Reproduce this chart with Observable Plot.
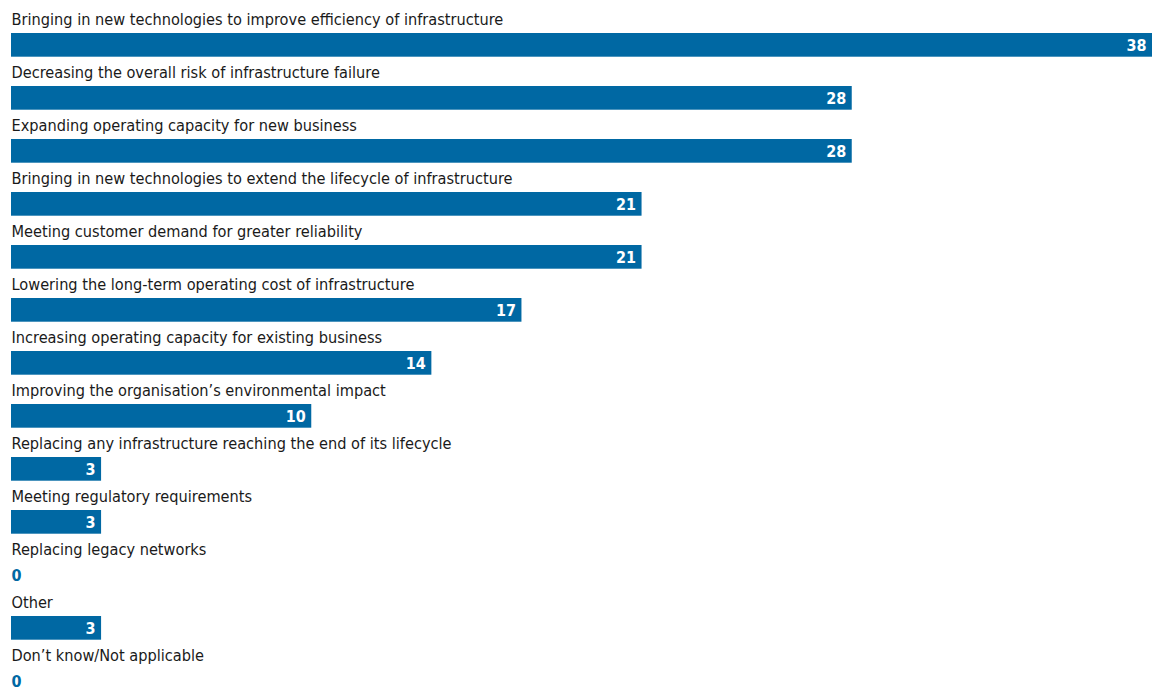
<!DOCTYPE html>
<html>
<head>
<meta charset="utf-8">
<script src="https://cdn.jsdelivr.net/npm/d3@7"></script>
<script src="https://cdn.jsdelivr.net/npm/@observablehq/plot@0.6"></script>
<style>
  html, body { margin: 0; padding: 0; background: #ffffff; }
  #chart svg { display: block; overflow: visible; }
</style>
</head>
<body>
<div id="chart"></div>
<script>
const categories = [
  "Bringing in new technologies to improve efficiency of infrastructure",
  "Decreasing the overall risk of infrastructure failure",
  "Expanding operating capacity for new business",
  "Bringing in new technologies to extend the lifecycle of infrastructure",
  "Meeting customer demand for greater reliability",
  "Lowering the long-term operating cost of infrastructure",
  "Increasing operating capacity for existing business",
  "Improving the organisation’s environmental impact",
  "Replacing any infrastructure reaching the end of its lifecycle",
  "Meeting regulatory requirements",
  "Replacing legacy networks",
  "Other",
  "Don’t know/Not applicable"
];
const values = [38, 28, 28, 21, 21, 17, 14, 10, 3, 3, 0, 3, 0];

const data = categories.map((c, i) => ({category: c, value: values[i]}));
const blue = "#0068a3";
const font = "'DejaVu Sans Condensed', 'Liberation Sans Narrow', sans-serif";

const chart = Plot.plot({
  width: 1162,
  height: 689,
  margin: 0,
  style: {fontFamily: font, background: "#ffffff"},
  x: {domain: [0, 38], range: [11, 1152], axis: null},
  y: {domain: categories, range: [5, 698], padding: 0, axis: null},
  marks: [
    Plot.barX(data, {x: "value", y: "category", fill: blue, insetTop: 26, insetBottom: 3.3}),
    Plot.text(data, {x: 0, y: "category", text: "category", textAnchor: "start", dy: -14, fontSize: 16.2, fill: "#1a1a1a"}),
    Plot.text(data.filter(d => d.value > 0), {x: "value", y: "category", text: d => String(d.value), textAnchor: "end", dx: -6, dy: 11.4, fontSize: 16, fontWeight: "bold", fill: "#ffffff"}),
    Plot.text(data.filter(d => d.value === 0), {x: 0, y: "category", text: d => String(d.value), textAnchor: "start", dx: 0, dy: 11.4, fontSize: 16, fontWeight: "bold", fill: blue})
  ]
});
document.getElementById("chart").append(chart);
</script>
</body>
</html>
